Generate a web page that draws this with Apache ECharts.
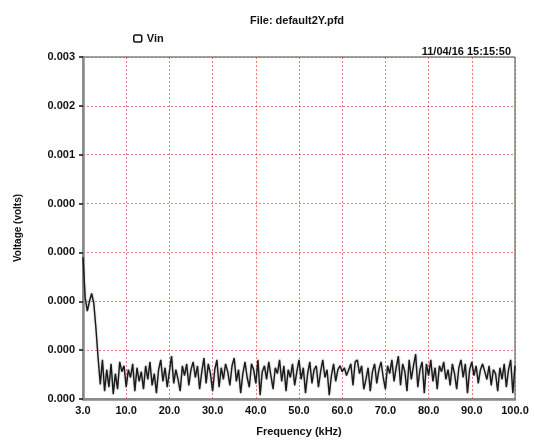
<!DOCTYPE html>
<html>
<head>
<meta charset="utf-8">
<script src="https://cdn.jsdelivr.net/npm/echarts@6/dist/echarts.min.js"></script>
<style>html,body{margin:0;padding:0;background:#fff}#c{width:534px;height:443px}</style>
</head>
<body>
<div id="c"></div>
<script>
// Tick labels as printed on the original chart
var xTickLabels = ['3.0','10.0','20.0','30.0','40.0','50.0','60.0','70.0','80.0','90.0','100.0'];
var yTickLabels = ['0.000','0.000','0.000','0.000','0.000','0.001','0.002','0.003'];
// Frequency sample step (kHz) along the axis
var freqStep = 0.5;
// Vin amplitude, in units of 10 microvolts, one value per frequency sample
var vin = [
  145,104,90,100,108,98,72,42,
  15,40,8,30,12,36,5,26,10,38,28,34,12,30,22,36,8,32,18,28,
  10,34,20,38,14,26,6,30,40,18,32,12,28,44,16,30,20,8,34,24,
  36,14,30,38,22,34,10,28,42,16,36,26,8,30,40,12,32,20,36,28,
  14,34,42,18,30,6,26,38,22,12,36,30,16,40,4,28,34,20,38,24,
  10,32,26,40,18,34,8,30,22,36,14,28,40,20,32,6,26,38,16,30,
  34,12,28,40,22,30,4,24,36,18,30,34,28,32,24,30,36,14,38,40,
  26,34,10,20,32,8,28,36,16,30,38,22,10,34,26,40,18,32,44,14,
  36,28,8,40,20,34,46,12,30,38,6,36,24,40,18,32,10,34,28,38,
  20,30,14,36,26,10,32,40,22,36,6,30,38,24,34,16,30,36,28,20,
  34,14,30,26,8,32,20,36,12,30,40,6,34
];
var seriesData = vin.map(function(v, i){ return [i * freqStep, v]; });

var font = 'Liberation Sans, Arial, sans-serif';
var gridRed = '#f04848';
var chart = echarts.init(document.getElementById('c'));
chart.setOption({
  animation: false,
  backgroundColor: '#fff',
  title: [
    {text: 'File: default2Y.pfd', left: 292, top: 10, textAlign: 'center',
     textStyle: {fontFamily: font, fontSize: 11, fontWeight: 'bold', color: '#111'}},
    {text: '11/04/16 15:15:50', right: 18, top: 41,
     textStyle: {fontFamily: font, fontSize: 11, fontWeight: 'bold', color: '#111'}}
  ],
  legend: {
    left: 128, top: 28, itemWidth: 8, itemHeight: 7, itemGap: 7,
    textStyle: {fontFamily: font, fontSize: 11, fontWeight: 'bold', color: '#111'},
    data: [{name: 'Vin', icon: 'roundRect', itemStyle: {color: '#fff', borderColor: '#111', borderWidth: 1.5}}]
  },
  grid: {left: 83, right: 19, top: 57, bottom: 44, show: true, borderColor: '#444', borderWidth: 1},
  xAxis: {
    type: 'value', min: 0, max: 100, interval: 10,
    name: 'Frequency (kHz)', nameLocation: 'middle', nameGap: 27,
    nameTextStyle: {fontFamily: font, fontSize: 11, fontWeight: 'bold', color: '#111'},
    axisLine: {show: true, lineStyle: {color: '#888', width: 2.5}},
    axisTick: {show: false},
    axisLabel: {fontFamily: font, fontSize: 11, fontWeight: 'bold', color: '#111', margin: 6,
      formatter: function(v){ return xTickLabels[Math.round(v / 10)]; }},
    splitLine: {show: true, lineStyle: {color: gridRed, type: [2, 2], width: 1, opacity: 0.75}}
  },
  yAxis: {
    type: 'value', min: 0, max: 350, interval: 50,
    name: 'Voltage (volts)', nameLocation: 'middle', nameGap: 60, nameRotate: 90,
    nameTextStyle: {fontFamily: font, fontSize: 10, fontWeight: 'bold', color: '#111'},
    axisLine: {show: true, lineStyle: {color: '#888', width: 2.5}},
    axisTick: {show: true, inside: false, length: 4, lineStyle: {color: '#111', width: 1.5}},
    axisLabel: {fontFamily: font, fontSize: 11, fontWeight: 'bold', color: '#111', margin: 8,
      formatter: function(v){ return yTickLabels[Math.round(v / 50)]; }},
    splitLine: {show: true, lineStyle: {color: gridRed, type: [2, 2], width: 1, opacity: 0.75}}
  },
  series: [{
    name: 'Vin', type: 'line', data: seriesData, showSymbol: false, symbol: 'none',
    lineStyle: {color: '#1a1a1a', width: 1.4, shadowColor: 'rgba(0,0,0,0.35)', shadowBlur: 2},
    itemStyle: {color: '#111'}
  }]
});
</script>
</body>
</html>
